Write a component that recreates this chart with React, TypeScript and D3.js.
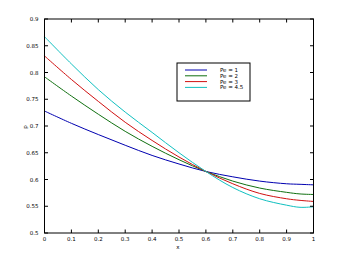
import React from "react";
import * as d3 from "d3";

const xs = [0, 0.1, 0.2, 0.3, 0.4, 0.5, 0.6, 0.7, 0.8, 0.9, 0.95, 1.0];
const pe1 = [0.728, 0.705, 0.684, 0.664, 0.645, 0.629, 0.615, 0.605, 0.597, 0.592, 0.591, 0.590];
const pe2 = [0.792, 0.756, 0.722, 0.690, 0.662, 0.637, 0.615, 0.597, 0.584, 0.576, 0.573, 0.572];
const pe3 = [0.831, 0.787, 0.746, 0.707, 0.673, 0.642, 0.615, 0.592, 0.574, 0.564, 0.561, 0.559];
const pe45 = [0.867, 0.816, 0.768, 0.726, 0.688, 0.650, 0.615, 0.585, 0.564, 0.552, 0.548, 0.549];
const seriesNames = ["Pe = 1", "Pe = 2", "Pe = 3", "Pe = 4.5"];
const seriesColors = ["#0000b0", "#107010", "#d01010", "#10c0c0"];
const xTicks = [0, 0.1, 0.2, 0.3, 0.4, 0.5, 0.6, 0.7, 0.8, 0.9, 1];
const yTicks = [0.5, 0.55, 0.6, 0.65, 0.7, 0.75, 0.8, 0.85, 0.9];

export default function App() {
  const L = 44.5, R = 313.5, T = 19, B = 233;
  const x = d3.scaleLinear().domain([0, 1]).range([L, R]);
  const y = d3.scaleLinear().domain([0.5, 0.9]).range([B, T]);
  const all = [pe1, pe2, pe3, pe45];
  const line = d3
    .line<number>()
    .x((_, i) => x(xs[i]))
    .y((d) => y(d))
    .curve(d3.curveCatmullRom.alpha(0.5));
  const fmt = (v: number) => (v === 0 || v === 1 ? String(v) : String(+v.toFixed(2)));
  const fs = 5.5;
  const font = "DejaVu Sans, sans-serif";
  const lg = { x: 177, y: 63, w: 73, h: 38 };
  return (
    <svg
      width={348}
      height={262}
      style={{ position: "absolute", left: 0, top: 0, background: "#fff" }}
      fontFamily={font}
    >
      <rect x={0} y={0} width={348} height={262} fill="#fff" />
      {all.map((s, k) => (
        <path key={k} d={line(s) || ""} fill="none" stroke={seriesColors[k]} strokeWidth={1} />
      ))}
      <rect x={L} y={T} width={R - L} height={B - T} fill="none" stroke="#000" strokeWidth={1} />
      {xTicks.map((t) => (
        <g key={"x" + t}>
          <line x1={x(t)} x2={x(t)} y1={B} y2={B - 3.5} stroke="#000" />
          <line x1={x(t)} x2={x(t)} y1={T} y2={T + 3.5} stroke="#000" />
          <text x={x(t)} y={B + 7.5} fontSize={fs} textAnchor="middle" fill="#000">
            {fmt(t)}
          </text>
        </g>
      ))}
      {yTicks.map((t) => (
        <g key={"y" + t}>
          <line x1={L} x2={L + 3.5} y1={y(t)} y2={y(t)} stroke="#000" />
          <line x1={R} x2={R - 3.5} y1={y(t)} y2={y(t)} stroke="#000" />
          <text x={L - 6} y={y(t) + 2} fontSize={fs} textAnchor="end" fill="#000">
            {fmt(t)}
          </text>
        </g>
      ))}
      <text x={178} y={248.5} fontSize={fs} textAnchor="middle" fill="#000">
        x
      </text>
      <text
        transform={`translate(27,127) rotate(-90)`}
        fontSize={fs}
        textAnchor="middle"
        fill="#000"
      >
        p
      </text>
      <rect x={lg.x} y={lg.y} width={lg.w} height={lg.h} fill="#fff" stroke="#000" strokeWidth={1} />
      {seriesNames.map((n, k) => (
        <g key={n}>
          <line
            x1={lg.x + 8}
            x2={lg.x + 30}
            y1={lg.y + 7 + k * 5.8}
            y2={lg.y + 7 + k * 5.8}
            stroke={seriesColors[k]}
            strokeWidth={1}
          />
          <text x={lg.x + 43} y={lg.y + 9 + k * 5.8} fontSize={5.5} fill="#000">
            {n}
          </text>
        </g>
      ))}
    </svg>
  );
}
